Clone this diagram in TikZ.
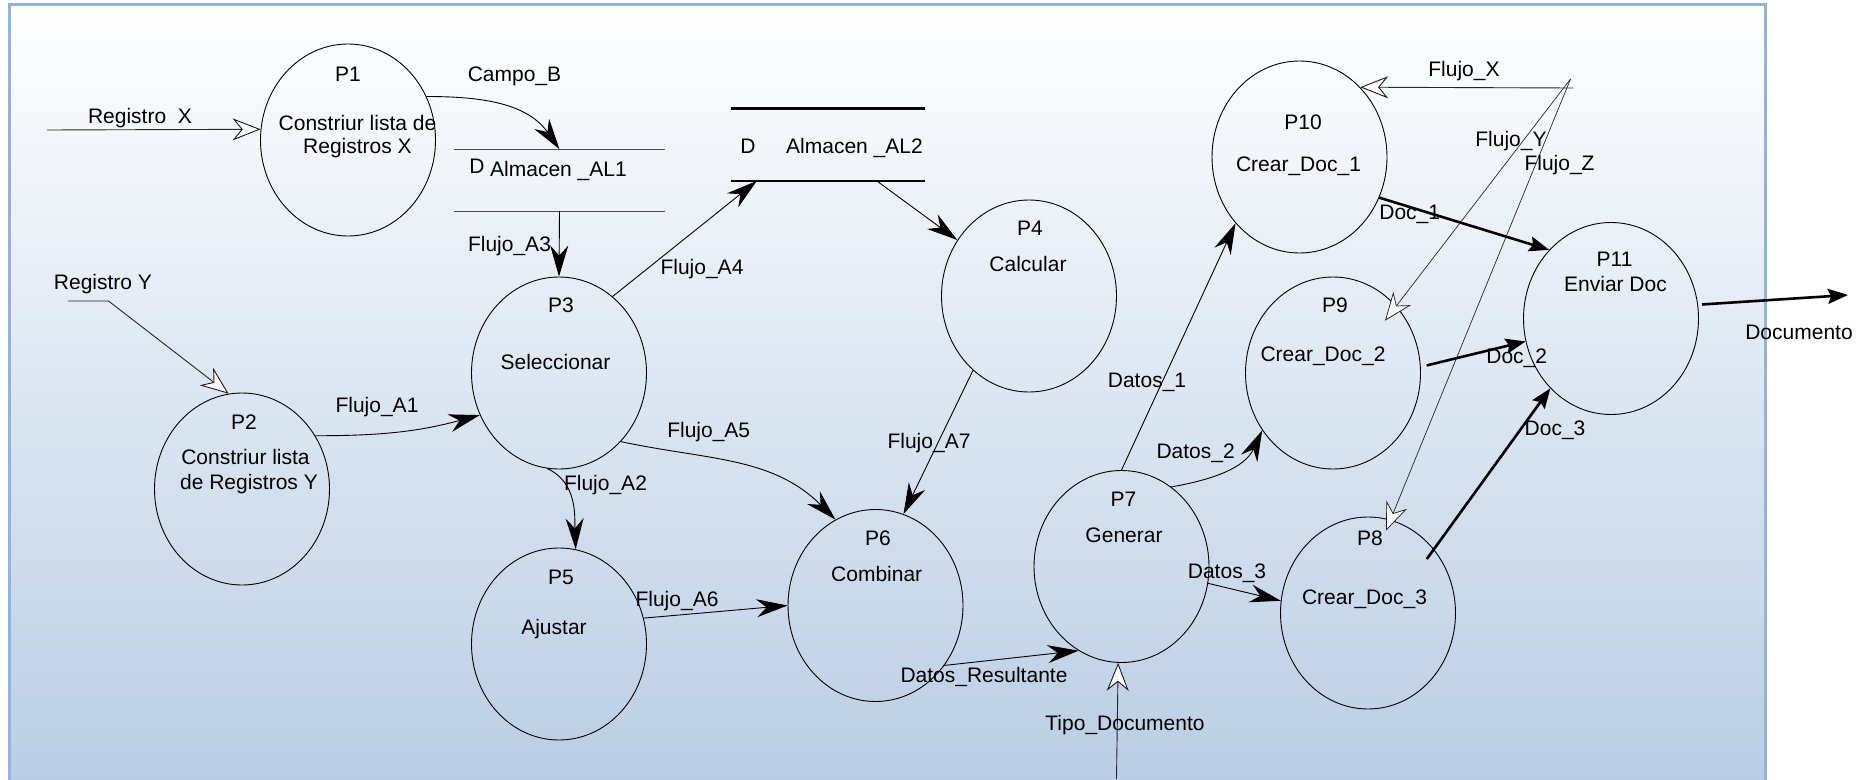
\documentclass[tikz,border=0pt]{standalone}
\usepackage{fontspec}
\setmainfont{Liberation Sans}
\usetikzlibrary{arrows.meta,shapes.geometric,calc}
\definecolor{framec}{RGB}{149,179,215}
\definecolor{bgbot}{RGB}{184,204,228}
\begin{document}
\begin{tikzpicture}[x=1pt,y=-1pt,
  proc/.style={draw=black, line width=0.9pt, ellipse, minimum width=175pt, minimum height=192pt, inner sep=0pt},
  store/.style={rectangle, minimum width=#1, inner sep=0pt, outer sep=0pt},
  txt/.style={anchor=base, inner sep=0pt, font=\fontsize{21}{24}\selectfont},
  flow/.style={draw=black, line width=0.9pt, -{Stealth[length=31pt,width=18pt,inset=10pt]}},
  ext/.style={draw=black!85, line width=0.9pt, -{Stealth[length=28pt,width=22pt,inset=9pt,fill=white,color=black!90]}},
  doc/.style={draw=black, line width=2.6pt, -{Stealth[length=20pt,width=15pt,inset=3pt]}}
]
\path[use as bounding box] (0,0) rectangle (1871,779);
\begin{scope}
\clip (0,0) rectangle (1871,779);
\shade[top color=white, bottom color=bgbot] (9,4.7) rectangle (1765.5,800);
\draw[line width=3pt, framec] (9,4.7) rectangle (1765.5,800);
\end{scope}

% processes
\node[proc] (p1) at (348,140) {};
\node[proc] (p2) at (242,489) {};
\node[proc] (p3) at (559,373) {};
\node[proc] (p4) at (1029,296) {};
\node[proc] (p5) at (559,644) {};
\node[proc] (p6) at (875.5,605.5) {};
\node[proc] (p7) at (1121.5,566.5) {};
\node[proc] (p8) at (1368,613) {};
\node[proc] (p9) at (1333,373) {};
\node[proc] (p10) at (1299.5,157) {};
\node[proc] (p11) at (1611,318.5) {};

\node[txt] (p1a) at (348,81.5) {P1};
\node[txt] (p1b) at (357.5,130) {Constriur lista de};
\node[txt] (p1c) at (357.5,153.5) {Registros X};
\node[txt] (p2a) at (244,429) {P2};
\node[txt] (p2b) at (245.5,464) {Constriur lista};
\node[txt] (p2c) at (249,489) {de Registros Y};
\node[txt] (p3a) at (561,312.3) {P3};
\node[txt] (p3b) at (555.5,369.3) {Seleccionar};
\node[txt] (p4a) at (1030,235) {P4};
\node[txt] (p4b) at (1028,271.7) {Calcular};
\node[txt] (p5a) at (561,584.7) {P5};
\node[txt] (p5b) at (554,634.7) {Ajustar};
\node[txt] (p6a) at (878,545.7) {P6};
\node[txt] (p6b) at (876.7,581.3) {Combinar};
\node[txt] (p7a) at (1123.4,506.7) {P7};
\node[txt] (p7b) at (1124,542.3) {Generar};
\node[txt] (p8a) at (1370,545.7) {P8};
\node[txt] (p8b) at (1364.5,604) {Crear\_Doc\_3};
\node[txt] (p9a) at (1335,312.3) {P9};
\node[txt] (p9b) at (1323,361.7) {Crear\_Doc\_2};
\node[txt] (p10a) at (1303,129) {P10};
\node[txt] (p10b) at (1298.5,171.7) {Crear\_Doc\_1};
\node[txt] (p11a) at (1614.6,266.7) {P11};
\node[txt] (p11b) at (1615.5,291.7) {Enviar Doc};

% data stores
\node[store=211.6pt, minimum height=62pt] (al1) at (559.5,180.3) {};
\draw[line width=1pt, black!70] (al1.north west) -- (al1.north east) (al1.south west) -- (al1.south east);
\node[txt] (al1d) at (477,173.3) {D};
\node[txt] (al1t) at (558.5,176.7) {Almacen \_AL1};
\node[store=193.7pt, minimum height=72.3pt] (al2) at (827.7,144.8) {};
\draw[line width=2.7pt, black] (al2.north west) -- (al2.north east) (al2.south west) -- (al2.south east);
\node[txt] (al2d) at (748,153.3) {D};
\node[txt] (al2t) at (854.5,153.3) {Almacen \_AL2};

% free ends
\coordinate (regX) at (47,130);
\coordinate (regY) at (68,301);
\coordinate (tipo) at (1116.5,779);
\coordinate (docEnd) at (1848,295);
\coordinate (srcX) at (1573,88);
\coordinate (src) at (1570.5,79);

% connectors
\draw[ext] (regX) -- (p1.173.5);
\draw[ext] (regY) -- ++(40.5,0) -- (p2.98.6);
\draw[flow] (p1.29) to[out=0,in=125] (al1.north);
\draw[flow] (al1.south) -- (p3.north);
\draw[flow] (p3.55) -- ($(al2.south west)+(26,0)$);
\draw[flow] ($(al2.south west)+(146,0)$) -- (p4.142);
\draw[flow] (p2.36) to[out=0,in=195] (p3.208);
\draw[flow] (p3.263) to[out=-25,in=92] (p5.80);
\draw[flow] (p3.312) to[out=-12,in=135] (p6.115);
\draw[flow] (p4.233) -- (p6.73);
\draw[flow] (p5.17) -- (p6.180);
\draw[flow] (p6.319) -- (p7.243);
\begin{scope}
\clip (0,0) rectangle (1871,779);
\draw[ext] (tipo) -- (p7.268);
\end{scope}
\draw[flow] (p7.north) -- (p10.226);
\draw[flow] (p7.58) to[out=10,in=245] (p9.219);
\draw[flow] (p7.349) -- (p8.172);
\draw[doc] (p10.333) -- (p11.132);
\draw[doc, shorten <=6pt] (p9.4) -- (p11.195);
\draw[doc] ($(p8)+(58.8,-54)$) -- (p11.229);
\draw[doc, shorten <=4pt] (p11.9) -- (docEnd);
\draw[ext] (srcX) -- (p10.49);
\draw[ext, line width=0.7pt] (src) -- ($(p9)+(52,-52.3)$);
\draw[ext, line width=0.7pt] (src) -- ($(p8)+(18,-82.3)$);

% connector labels
\node[txt] (lregx) at (140,123.3) {Registro\ \ X};
\node[txt] (lcampo) at (514.5,81.7) {Campo\_B};
\node[txt] (la3) at (509.5,251) {Flujo\_A3};
\node[txt] (la4) at (702,274) {Flujo\_A4};
\node[txt] (lregy) at (103,289.3) {Registro Y};
\node[txt] (la1) at (377,412.3) {Flujo\_A1};
\node[txt] (la2) at (605.5,490) {Flujo\_A2};
\node[txt] (la5) at (708.7,437.3) {Flujo\_A5};
\node[txt] (la7) at (929,448.3) {Flujo\_A7};
\node[txt] (la6) at (677,606.3) {Flujo\_A6};
\node[txt] (ldr) at (984,682.3) {Datos\_Resultante};
\node[txt] (ltipo) at (1125,730.7) {Tipo\_Documento};
\node[txt] (ld1) at (1147,387.3) {Datos\_1};
\node[txt] (ld2) at (1195.6,458) {Datos\_2};
\node[txt] (ld3) at (1227,578.3) {Datos\_3};
\node[txt] (ldoc1) at (1409.7,219.3) {Doc\_1};
\node[txt] (ldoc2) at (1516.7,363.3) {Doc\_2};
\node[txt] (ldoc3) at (1555,435.7) {Doc\_3};
\node[txt] (ldoc) at (1799,339) {Documento};
\node[txt] (lfx) at (1464,76) {Flujo\_X};
\node[txt] (lfy) at (1511,146.7) {Flujo\_Y};
\node[txt] (lfz) at (1559.5,170.7) {Flujo\_Z};
\end{tikzpicture}
\end{document}
